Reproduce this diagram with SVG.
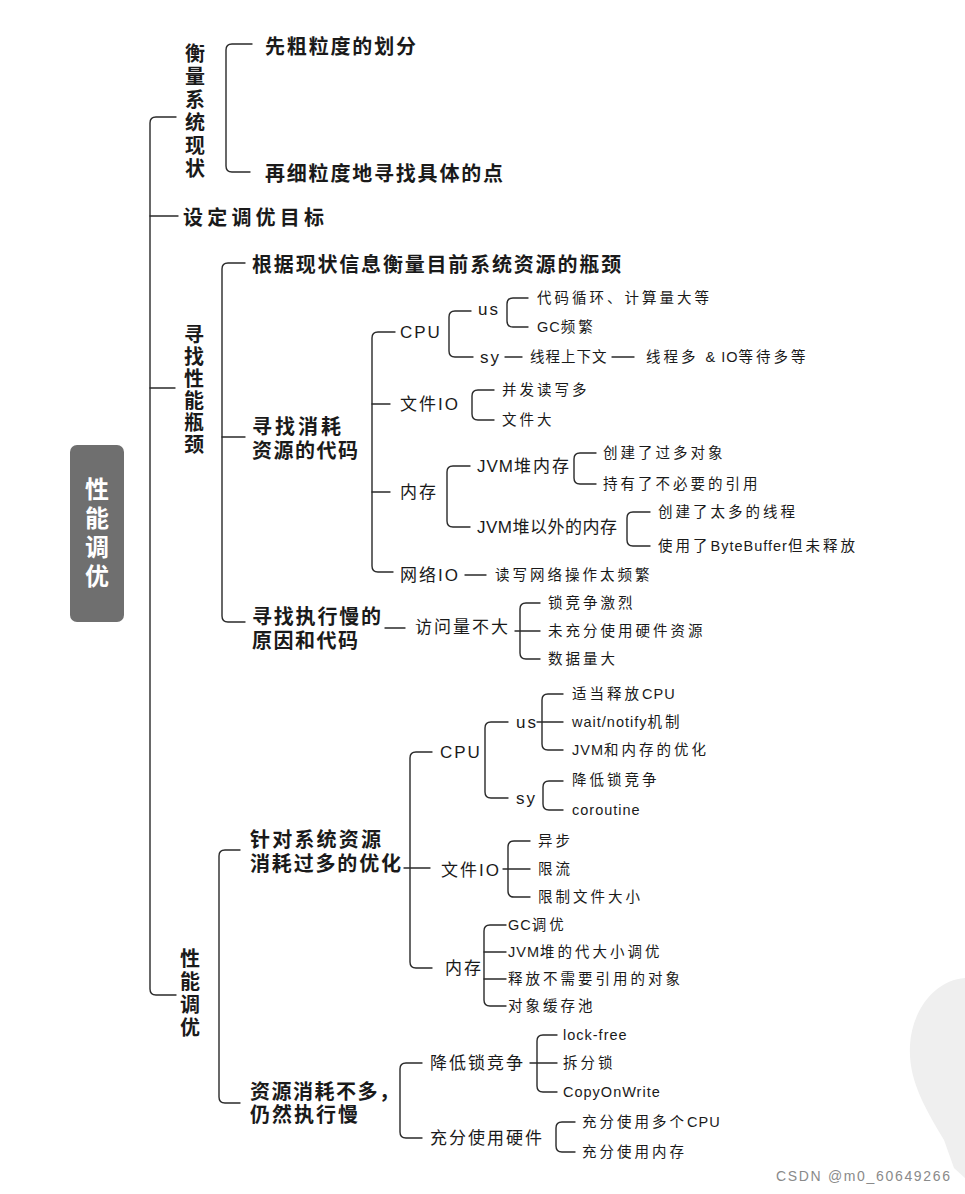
<svg xmlns="http://www.w3.org/2000/svg" width="965" height="1194" viewBox="0 0 965 1194">
<style>
text{fill:#1a1a1a;dominant-baseline:central;font-family:"Noto Sans CJK SC","Liberation Sans",sans-serif}
.h{font-size:20px;font-weight:bold}
.v{font-size:20px;font-weight:bold;writing-mode:vertical-rl;letter-spacing:3px}
.m{font-size:17px;letter-spacing:2px;font-family:"Liberation Sans","Noto Sans CJK SC",sans-serif}
.s{font-size:14.5px;letter-spacing:3px;font-family:"Liberation Sans","Noto Sans CJK SC",sans-serif}
.l{letter-spacing:1px}
.root{fill:#ffffff;font-size:24px;font-weight:bold;writing-mode:vertical-rl;letter-spacing:5px}
.wm{fill:#8a8a8a;font-size:14px;font-family:"Liberation Sans",sans-serif}
#connectors path{fill:none;stroke:#2a2a2a;stroke-width:1.4;stroke-linecap:round}
</style>
<rect width="965" height="1194" fill="#ffffff"/>
<path d="M965 978 C935 980 912 1010 910 1045 C908 1080 925 1108 944 1140 L954 1168 L965 1178 Z" fill="#efefef"/>
<g id="connectors">
<path d="M176 117 H156 Q150 117 150 123 V989 Q150 995 156 995 H176"/>
<path d="M150 216 H178"/>
<path d="M150 388 H175"/>
<path d="M252 44 H232 Q226 44 226 50 V166 Q226 172 232 172 H250"/>
<path d="M245 263 H228 Q222 263 222 269 V616 Q222 622 228 622 H245"/>
<path d="M222 437 H245"/>
<path d="M395 332 H378 Q372 332 372 338 V566 Q372 572 378 572 H393"/>
<path d="M372 404 H390"/>
<path d="M372 492 H390"/>
<path d="M471 311 H455 Q449 311 449 317 V351 Q449 357 455 357 H473"/>
<path d="M528 298 H513 Q507 298 507 304 V321 Q507 327 513 327 H528"/>
<path d="M505 357 H522"/>
<path d="M612 357 H634"/>
<path d="M494 390 H478 Q472 390 472 396 V414 Q472 420 478 420 H494"/>
<path d="M470 466 H453 Q447 466 447 472 V521 Q447 527 453 527 H470"/>
<path d="M596 453 H580 Q574 453 574 459 V478 Q574 484 580 484 H596"/>
<path d="M650 512 H633 Q627 512 627 518 V540 Q627 546 633 546 H650"/>
<path d="M465 575 H486"/>
<path d="M385 628 H405"/>
<path d="M540 603 H526 Q520 603 520 609 V653 Q520 659 526 659 H540"/>
<path d="M515 631 H540"/>
<path d="M240 850 H225 Q219 850 219 856 V1097 Q219 1103 225 1103 H240"/>
<path d="M432 752 H416 Q410 752 410 758 V962 Q410 968 416 968 H432"/>
<path d="M404 868 H430"/>
<path d="M508 722 H491 Q485 722 485 728 V792 Q485 798 491 798 H508"/>
<path d="M563 694 H548 Q542 694 542 700 V744 Q542 750 548 750 H563"/>
<path d="M537 722 H563"/>
<path d="M563 781 H549 Q543 781 543 787 V804 Q543 810 549 810 H563"/>
<path d="M530 841 H514 Q508 841 508 847 V891 Q508 897 514 897 H530"/>
<path d="M503 869 H530"/>
<path d="M506 925 H490 Q484 925 484 931 V1000 Q484 1006 490 1006 H506"/>
<path d="M484 952 H506"/>
<path d="M484 979 H506"/>
<path d="M422 1063 H406 Q400 1063 400 1069 V1132 Q400 1138 406 1138 H422"/>
<path d="M557 1035 H543 Q537 1035 537 1041 V1086 Q537 1092 543 1092 H557"/>
<path d="M530 1063 H557"/>
<path d="M575 1122 H562 Q556 1122 556 1128 V1146 Q556 1152 562 1152 H575"/>
</g>
<g id="root">
<rect x="70" y="445" width="54" height="177" rx="7" fill="#6f6f6f"/>
<text class="root" x="97" y="477">性能调优</text>
</g>
<g id="n-hengliang"><text class="v" x="195" y="43">衡量系统现状</text></g>
<g id="n-cu"><text class="h" x="265" y="45" textLength="151">先粗粒度的划分</text></g>
<g id="n-xi"><text class="h" x="265" y="172" textLength="238">再细粒度地寻找具体的点</text></g>
<g id="n-mubiao"><text class="h" x="183" y="216" textLength="141">设定调优目标</text></g>
<g id="n-pingjing"><text class="v" x="194" y="324" style="letter-spacing:2px">寻找性能瓶颈</text></g>
<g id="n-genju"><text class="h" x="252" y="263" textLength="369">根据现状信息衡量目前系统资源的瓶颈</text></g>
<g id="n-xiaohao"><text class="h" x="252" y="425"><tspan x="252" y="425" textLength="89">寻找消耗</tspan><tspan x="252" y="449" textLength="106">资源的代码</tspan></text></g>
<g id="n-cpu1"><text class="m" x="400" y="332">CPU</text></g>
<g id="n-us1"><text class="m" x="478" y="309">us</text></g>
<g id="n-us1a"><text class="s" x="537" y="298">代码循环、计算量大等</text></g>
<g id="n-us1b"><text class="s" x="537" y="327"><tspan class="l">GC</tspan>频繁</text></g>
<g id="n-sy1"><text class="m" x="480" y="357">sy</text></g>
<g id="n-sy1a"><text class="s" x="530" y="357" style="letter-spacing:1px">线程上下文</text></g>
<g id="n-sy1b"><text class="s" x="646" y="357">线程多 <tspan class="l">&amp; IO</tspan>等待多等</text></g>
<g id="n-file1"><text class="m" x="400" y="404">文件IO</text></g>
<g id="n-file1a"><text class="s" x="502" y="390">并发读写多</text></g>
<g id="n-file1b"><text class="s" x="502" y="420">文件大</text></g>
<g id="n-mem1"><text class="m" x="400" y="492">内存</text></g>
<g id="n-heap"><text class="m" x="477" y="466"><tspan class="l">JVM</tspan>堆内存</text></g>
<g id="n-heapa"><text class="s" x="603" y="453">创建了过多对象</text></g>
<g id="n-heapb"><text class="s" x="603" y="484">持有了不必要的引用</text></g>
<g id="n-offheap"><text class="m" x="477" y="527" style="letter-spacing:0.5px">JVM堆以外的内存</text></g>
<g id="n-offheapa"><text class="s" x="658" y="512">创建了太多的线程</text></g>
<g id="n-offheapb"><text class="s" x="658" y="546">使用了<tspan class="l">ByteBuffer</tspan>但未释放</text></g>
<g id="n-net"><text class="m" x="400" y="575">网络IO</text></g>
<g id="n-neta"><text class="s" x="495" y="575">读写网络操作太频繁</text></g>
<g id="n-man"><text class="h" x="252" y="615"><tspan x="252" y="615" textLength="129">寻找执行慢的</tspan><tspan x="252" y="639" textLength="106">原因和代码</tspan></text></g>
<g id="n-fangwen"><text class="m" x="415" y="627">访问量不大</text></g>
<g id="n-fwa"><text class="s" x="548" y="603">锁竞争激烈</text></g>
<g id="n-fwb"><text class="s" x="548" y="631">未充分使用硬件资源</text></g>
<g id="n-fwc"><text class="s" x="548" y="659">数据量大</text></g>
<g id="n-tiaoyou"><text class="v" x="190" y="948">性能调优</text></g>
<g id="n-zhendui"><text class="h" x="250" y="838"><tspan x="250" y="838" textLength="131">针对系统资源</tspan><tspan x="250" y="862" textLength="151">消耗过多的优化</tspan></text></g>
<g id="n-cpu2"><text class="m" x="440" y="752">CPU</text></g>
<g id="n-us2"><text class="m" x="516" y="722">us</text></g>
<g id="n-us2a"><text class="s" x="572" y="694">适当释放<tspan class="l">CPU</tspan></text></g>
<g id="n-us2b"><text class="s" x="572" y="722"><tspan class="l">wait/notify</tspan>机制</text></g>
<g id="n-us2c"><text class="s" x="572" y="750"><tspan class="l">JVM</tspan>和内存的优化</text></g>
<g id="n-sy2"><text class="m" x="516" y="798">sy</text></g>
<g id="n-sy2a"><text class="s" x="572" y="780">降低锁竞争</text></g>
<g id="n-sy2b"><text class="s" x="572" y="810"><tspan class="l">coroutine</tspan></text></g>
<g id="n-file2"><text class="m" x="441" y="870">文件IO</text></g>
<g id="n-file2a"><text class="s" x="538" y="841">异步</text></g>
<g id="n-file2b"><text class="s" x="538" y="869">限流</text></g>
<g id="n-file2c"><text class="s" x="538" y="897">限制文件大小</text></g>
<g id="n-mem2"><text class="m" x="445" y="968">内存</text></g>
<g id="n-mem2a"><text class="s" x="508" y="925"><tspan class="l">GC</tspan>调优</text></g>
<g id="n-mem2b"><text class="s" x="508" y="952"><tspan class="l">JVM</tspan>堆的代大小调优</text></g>
<g id="n-mem2c"><text class="s" x="508" y="979">释放不需要引用的对象</text></g>
<g id="n-mem2d"><text class="s" x="508" y="1006">对象缓存池</text></g>
<g id="n-buduo"><text class="h" x="250" y="1090"><tspan x="250" y="1090" style="letter-spacing:1.5px">资源消耗不多，</tspan><tspan x="250" y="1113" textLength="108">仍然执行慢</tspan></text></g>
<g id="n-lock"><text class="m" x="430" y="1063">降低锁竞争</text></g>
<g id="n-locka"><text class="s" x="563" y="1035"><tspan class="l">lock-free</tspan></text></g>
<g id="n-lockb"><text class="s" x="563" y="1063">拆分锁</text></g>
<g id="n-lockc"><text class="s" x="563" y="1092"><tspan class="l">CopyOnWrite</tspan></text></g>
<g id="n-hw"><text class="m" x="430" y="1138">充分使用硬件</text></g>
<g id="n-hwa"><text class="s" x="582" y="1122">充分使用多个<tspan class="l">CPU</tspan></text></g>
<g id="n-hwb"><text class="s" x="582" y="1152">充分使用内存</text></g>
<text class="wm" x="776" y="1176" textLength="174">CSDN @m0_60649266</text>
</svg>
